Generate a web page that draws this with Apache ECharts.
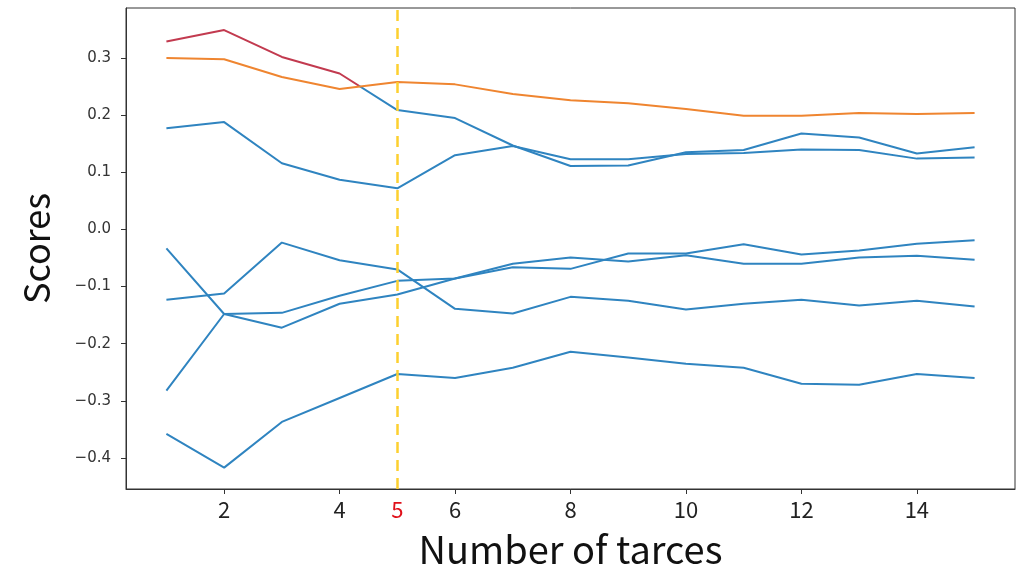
<!DOCTYPE html>
<html>
<head>
<meta charset="utf-8">
<script src="https://cdn.jsdelivr.net/npm/echarts@6/dist/echarts.min.js"></script>
<style>
  html, body { margin: 0; padding: 0; background: #fff; }
  #chart { width: 1030px; height: 566px; }
</style>
</head>
<body>
<div id="chart"></div>
<script>
const traces = [1, 2, 3, 4, 5, 6, 7, 8, 9, 10, 11, 12, 13, 14, 15];
const xTicks = [2, 4, 5, 6, 8, 10, 12, 14];
const yTicks = [-0.4, -0.3, -0.2, -0.1, 0.0, 0.1, 0.2, 0.3];
const chosen = 5;

// orange reference line
const meanScore = [0.300, 0.298, 0.267, 0.246, 0.258, 0.254, 0.237, 0.226, 0.221, 0.211, 0.199, 0.199, 0.204, 0.202, 0.204];
// red while above the orange line, blue after
const topScore = [0.329, 0.349, 0.302, 0.273, 0.209, 0.195, 0.147, 0.111, 0.112, 0.135, 0.139, 0.168, 0.161, 0.133, 0.144];
const score2 = [0.177, 0.188, 0.116, 0.087, 0.072, 0.130, 0.146, 0.123, 0.123, 0.132, 0.134, 0.140, 0.139, 0.124, 0.126];
const score3 = [-0.033, -0.148, -0.172, -0.130, -0.114, -0.086, -0.066, -0.069, -0.042, -0.042, -0.026, -0.044, -0.037, -0.025, -0.019];
const score4 = [-0.123, -0.112, -0.023, -0.054, -0.070, -0.139, -0.147, -0.118, -0.125, -0.140, -0.130, -0.123, -0.133, -0.125, -0.135];
const score5 = [-0.282, -0.148, -0.146, -0.116, -0.090, -0.086, -0.060, -0.049, -0.056, -0.045, -0.060, -0.060, -0.049, -0.046, -0.053];
const score6 = [-0.358, -0.417, -0.337, -0.295, -0.253, -0.260, -0.242, -0.214, -0.224, -0.235, -0.242, -0.270, -0.272, -0.253, -0.260];

const blue = '#2f84c0';
const red = '#c23a4f';
const orange = '#ef8530';

const pairs = arr => traces.map((x, i) => [x, arr[i]]);

// where the top line drops under the orange one
let cross = traces[traces.length - 1];
for (let i = 0; i < traces.length - 1; i++) {
  const d0 = topScore[i] - meanScore[i];
  const d1 = topScore[i + 1] - meanScore[i + 1];
  if (d0 > 0 && d1 <= 0) {
    cross = traces[i] + d0 / (d0 - d1) * (traces[i + 1] - traces[i]);
    break;
  }
}
const xFirst = traces[0], xLast = traces[traces.length - 1];
const f = (cross - xFirst) / (xLast - xFirst);
const splitColor = new echarts.graphic.LinearGradient(0, 0, 1, 0, [
  { offset: 0, color: red },
  { offset: f, color: red },
  { offset: f, color: blue },
  { offset: 1, color: blue }
]);

const chart = echarts.init(document.getElementById('chart'));

const lineSeries = (data, color, z) => ({
  type: 'line',
  data: pairs(data),
  showSymbol: false,
  symbol: 'none',
  lineStyle: { color: color, width: 2 },
  itemStyle: { color: blue },
  z: z || 2
});

const option = {
  animation: false,
  grid: {
    left: 126, right: 15, top: 8, bottom: 77,
    containLabel: false,
    outerBoundsMode: 'none',
    show: true, borderColor: '#333', borderWidth: 1
  },
  xAxis: {
    type: 'value',
    min: 0.3,
    max: 15.7,
    name: 'Number of tarces',
    nameLocation: 'middle',
    nameGap: 42,
    nameTextStyle: { fontFamily: 'Noto Sans CJK KR', fontSize: 38, color: '#111' },
    splitLine: { show: false },
    axisLine: { show: true, onZero: false, lineStyle: { color: '#333' } },
    axisTick: { show: true, length: 5, customValues: [2, 4, 6, 8, 10, 12, 14], lineStyle: { color: '#333' } },
    axisLabel: {
      customValues: xTicks,
      margin: 10,
      fontFamily: 'Noto Sans CJK KR',
      fontSize: 22,
      color: '#222',
      formatter: v => v === chosen ? '{hi|' + v + '}' : String(v),
      rich: { hi: { color: '#e0101a', fontFamily: 'Noto Sans CJK KR', fontSize: 22 } }
    }
  },
  yAxis: {
    type: 'value',
    min: -0.4544,
    max: 0.3877,
    name: 'Scores',
    nameLocation: 'middle',
    nameGap: 72,
    nameTextStyle: { fontFamily: 'Noto Sans CJK KR', fontSize: 36, color: '#111' },
    splitLine: { show: false },
    axisLine: { show: true, lineStyle: { color: '#333' } },
    axisTick: { show: true, length: 5, customValues: yTicks, lineStyle: { color: '#333' } },
    axisLabel: {
      customValues: yTicks,
      margin: 15,
      fontFamily: 'DejaVu Sans',
      fontSize: 15,
      color: '#333',
      formatter: v => (v < 0 ? '\u2212' : '') + Math.abs(v).toFixed(1)
    }
  },
  series: [
    lineSeries(score2, blue),
    lineSeries(score3, blue),
    lineSeries(score4, blue),
    lineSeries(score5, blue),
    lineSeries(score6, blue),
    lineSeries(topScore, splitColor),
    Object.assign(lineSeries(meanScore, orange, 3), {
      markLine: {
        silent: true,
        symbol: 'none',
        label: { show: false },
        lineStyle: { color: '#fdd02f', width: 2.5, type: [11, 7] },
        data: [{ xAxis: chosen }]
      }
    })
  ]
};

chart.setOption(option);
</script>
</body>
</html>
